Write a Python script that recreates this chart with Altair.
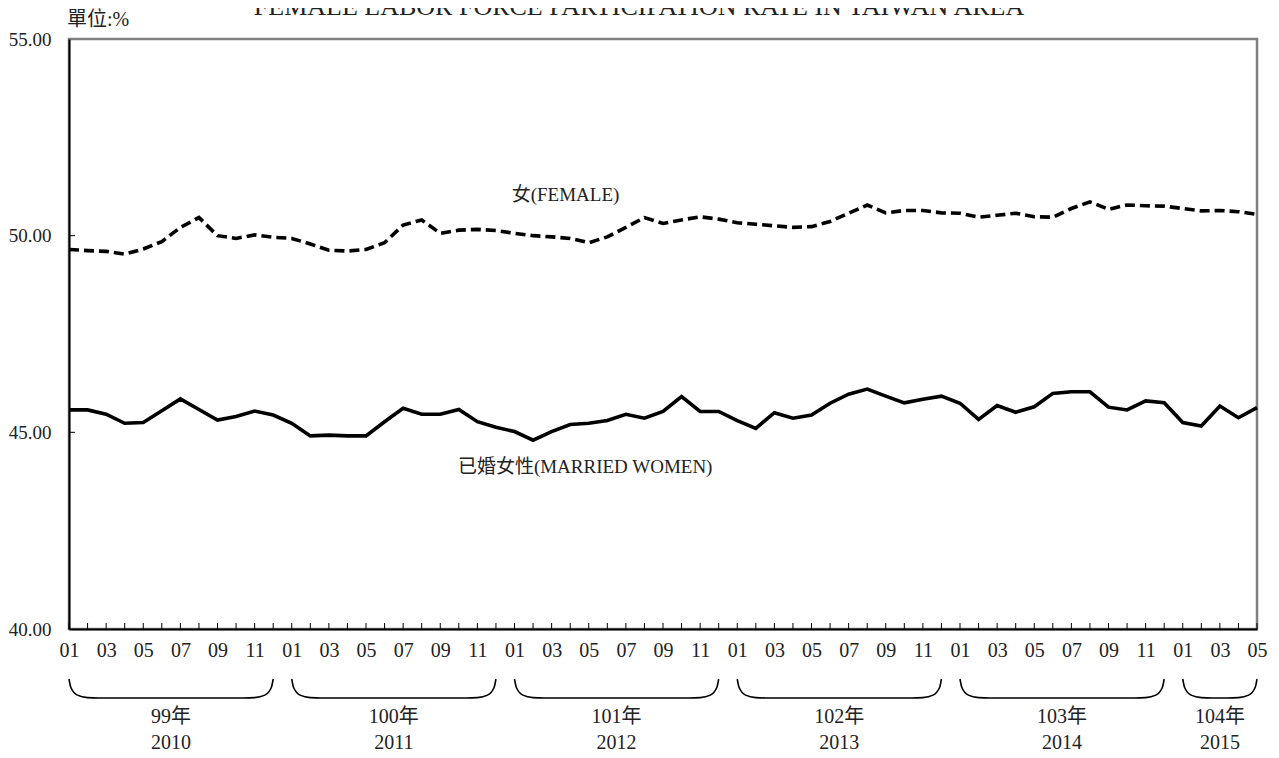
import altair as alt
import pandas as pd

# ---- data (monthly, 2010-01 .. 2015-05) ----
female = [49.65, 49.62, 49.60, 49.53, 49.66, 49.85, 50.21, 50.46, 50.00, 49.93, 50.02, 49.96,
          49.93, 49.79, 49.63, 49.61, 49.65, 49.82, 50.27, 50.40, 50.06, 50.14, 50.16, 50.13,
          50.06, 50.00, 49.97, 49.93, 49.82, 49.97, 50.21, 50.46, 50.31, 50.40, 50.48, 50.42,
          50.33, 50.29, 50.25, 50.21, 50.23, 50.36, 50.57, 50.78, 50.58, 50.64, 50.64, 50.58,
          50.57, 50.47, 50.52, 50.57, 50.48, 50.47, 50.69, 50.86, 50.67, 50.78, 50.76, 50.75,
          50.69, 50.63, 50.64, 50.61, 50.54]
married = [45.57, 45.57, 45.46, 45.23, 45.25, 45.55, 45.85, 45.58, 45.31, 45.40, 45.54, 45.44,
           45.23, 44.91, 44.93, 44.91, 44.91, 45.27, 45.61, 45.46, 45.46, 45.58, 45.27, 45.13,
           45.02, 44.80, 45.02, 45.20, 45.23, 45.30, 45.46, 45.36, 45.53, 45.91, 45.53, 45.53,
           45.30, 45.10, 45.50, 45.36, 45.44, 45.74, 45.97, 46.10, 45.92, 45.75, 45.84, 45.92,
           45.74, 45.33, 45.68, 45.51, 45.65, 45.99, 46.03, 46.03, 45.64, 45.57, 45.80, 45.75,
           45.25, 45.16, 45.67, 45.37, 45.63]
months = list(range(len(female)))

year_ad = ["2010", "2011", "2012", "2013", "2014", "2015"]
year_roc = ["99年", "100年", "101年", "102年", "103年", "104年"]
year_first = [0, 12, 24, 36, 48, 60]
year_last = [11, 23, 35, 47, 59, 64]

y_ticks = [40, 45, 50, 55]
inner_y_ticks = [45, 50]

title_text = "FEMALE LABOR FORCE PARTICIPATION RATE IN TAIWAN AREA"
unit_text = "單位:%"
series_names = ["女(FEMALE)", "已婚女性(MARRIED WOMEN)"]
series_label_m = [23.85, 20.95]
series_label_v = [51.03, 44.12]

W, H = 1188, 590
FONT = "Liberation Serif, Noto Sans CJK TC, serif"
TXT = "#222222"

df = pd.DataFrame({"m": months, "female": female, "married": married})

month_label = ("datum.value % 2 == 0 ? ((datum.value % 12) < 9 ? '0' : '') + "
               "toString((datum.value % 12) + 1) : ''")

x_enc = alt.X("m:Q",
              scale=alt.Scale(domain=[0, 64], nice=False, zero=False),
              axis=alt.Axis(values=months, tickSize=0, labelExpr=month_label,
                            labelFontSize=20, labelPadding=11, labelFont=FONT,
                            labelColor=TXT, labelFlush=False, labelOverlap=False,
                            labelSeparation=0, labelBound=False,
                            domainColor="black", domainWidth=2, grid=False,
                            title=None, zindex=1))
y_scale = alt.Scale(domain=[40, 55], nice=False, zero=False)
y_axis = alt.Axis(values=y_ticks, format=".2f", tickSize=0, labelPadding=18,
                  labelFontSize=19, labelFont=FONT, labelColor=TXT,
                  domainColor="black", domainWidth=2, grid=False, title=None,
                  zindex=1)

base = alt.Chart(df)

x_ticks = base.mark_rule(color="black", strokeWidth=1).encode(
    x=x_enc, y=alt.value(H), y2=alt.value(H - 6))

female_line = base.mark_line(color="black", strokeWidth=3.6,
                             strokeDash=[10, 5]).encode(
    x=x_enc, y=alt.Y("female:Q", scale=y_scale, axis=y_axis))
married_line = base.mark_line(color="black", strokeWidth=3.6).encode(
    x=x_enc, y=alt.Y("married:Q", scale=y_scale, axis=y_axis))

y_tick_df = pd.DataFrame({"v": inner_y_ticks})
y_tick_marks = alt.Chart(y_tick_df).mark_rule(color="black", strokeWidth=1).encode(
    y=alt.Y("v:Q", scale=y_scale, axis=y_axis), x=alt.value(0), x2=alt.value(6))

lab_df = pd.DataFrame({"t": series_names, "m": series_label_m, "v": series_label_v})
series_labels = alt.Chart(lab_df).mark_text(
    align="left", baseline="middle", fontSize=19, font=FONT, color=TXT).encode(
    x=x_enc, y=alt.Y("v:Q", scale=y_scale, axis=y_axis), text="t:N")

title_mark = alt.Chart(pd.DataFrame({"t": [title_text]})).mark_text(
    align="center", baseline="alphabetic", fontSize=26, font=FONT, color=TXT).encode(
    x=alt.value(570), y=alt.value(-24), text="t:N")

unit_mark = alt.Chart(pd.DataFrame({"t": [unit_text]})).mark_text(
    align="left", baseline="middle", fontSize=20, font=FONT, color=TXT).encode(
    x=alt.value(-2), y=alt.value(-19), text="t:N")

main = alt.layer(x_ticks, y_tick_marks, female_line, married_line,
                 series_labels, title_mark, unit_mark)

# ---- braces under the axis, one per year ----
rows = []
for yr, s, e in zip(year_ad, year_first, year_last):
    shape = [(s, 1.0), (s + 0.1, 0.55), (s + 0.45, 0.15), (s + 1.0, 0.02), (s + 1.6, 0.0),
             (e - 1.6, 0.0), (e - 1.0, 0.02), (e - 0.45, 0.15), (e - 0.1, 0.55), (e, 1.0)]
    for k, (mm, vv) in enumerate(shape):
        rows.append({"year": yr, "k": k, "m": mm, "b": vv})
brace_df = pd.DataFrame(rows)

braces = alt.Chart(brace_df).mark_line(color="black", strokeWidth=1.6,
                                       interpolate="monotone").encode(
    x=x_enc,
    y=alt.Y("b:Q", scale=alt.Scale(domain=[0, 1], range=[H + 69, H + 50]), axis=None),
    detail="year:N", order="k:Q")

yl_df = pd.DataFrame({"roc": year_roc, "ad": year_ad,
                      "m": [(a + b) / 2 for a, b in zip(year_first, year_last)]})
roc_text = alt.Chart(yl_df).mark_text(fontSize=20, font=FONT, color=TXT,
                                      baseline="middle").encode(
    x=x_enc, y=alt.value(H + 88), text="roc:N")
ad_text = alt.Chart(yl_df).mark_text(fontSize=20, font=FONT, color=TXT,
                                     baseline="middle").encode(
    x=x_enc, y=alt.value(H + 114), text="ad:N")

bottom = alt.layer(braces, roc_text, ad_text)

chart = alt.layer(main, bottom).resolve_scale(y="independent").properties(
    width=W, height=H,
    background="white",
    autosize=alt.AutoSizeParams(type="none"),
    padding={"left": 61, "top": 31, "right": 12, "bottom": 126},
).configure_view(stroke="#808080", strokeWidth=2.5)

chart.save("out.html", embed_options={"renderer": "svg", "actions": False})
